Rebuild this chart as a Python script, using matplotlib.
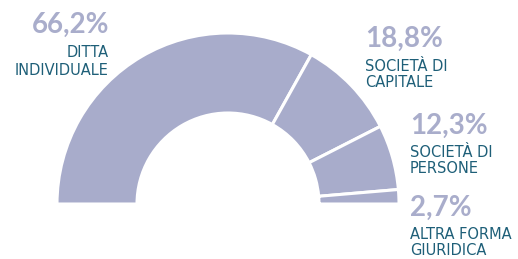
import matplotlib.pyplot as plt

# data
shares = [66.2, 18.8, 12.3, 2.7]
pct_labels = ['66,2%', '18,8%', '12,3%', '2,7%']
names = [['DITTA', 'INDIVIDUALE'], ['SOCIETÀ DI', 'CAPITALE'],
         ['SOCIETÀ DI', 'PERSONE'], ['ALTRA FORMA', 'GIURIDICA']]

slice_col = '#a8accb'
pct_col = '#a9adcb'
name_col = '#1e5f78'
H = 259

fig = plt.figure(figsize=(5.18, 2.59), dpi=100)
ax = fig.add_axes([0, 0, 1, 1])

# half donut: add an invisible half so the shares fill the upper 180 degrees
vals = shares + [sum(shares)]
wedges, _ = ax.pie(vals, center=(228, H - 204), radius=171, startangle=180, counterclock=False,
                   colors=[slice_col] * 4 + ['none'], frame=True,
                   wedgeprops=dict(width=80, edgecolor='white', linewidth=2.2))
wedges[-1].set_edgecolor('none')
ax.set_xlim(0, 518)
ax.set_ylim(0, H)
ax.axis('off')

# label anchors: x, alignment, baseline of percent, baselines of the two name lines
pos = [(109, 'right', 33, 57, 75),
       (365, 'left', 47, 71, 87),
       (410, 'left', 134, 157, 173),
       (410, 'left', 216, 239, 255)]
for (x, ha, yp, y1, y2), p, n in zip(pos, pct_labels, names):
    ax.text(x, H - yp, p, ha=ha, va='baseline', fontsize=20, fontweight='bold',
            color=pct_col, family='Lato')
    ax.text(x, H - y1, n[0], ha=ha, va='baseline', fontsize=10.5, color=name_col,
            family='DejaVu Sans')
    ax.text(x, H - y2, n[1], ha=ha, va='baseline', fontsize=10.5, color=name_col,
            family='DejaVu Sans')

fig.savefig('out.png', dpi=100)
